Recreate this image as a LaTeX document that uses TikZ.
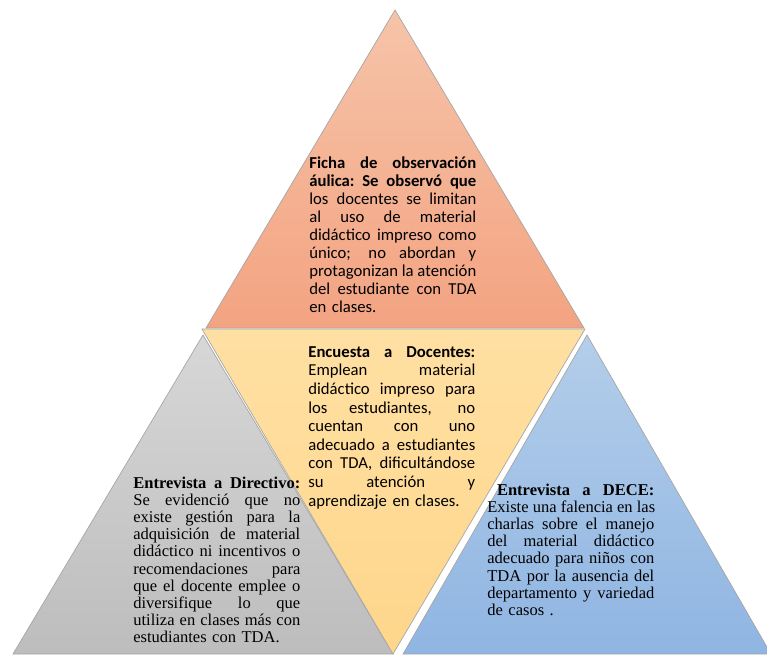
\documentclass[tikz,border=0pt]{standalone}
\usepackage{fontspec}
\setmainfont{Liberation Serif}
\newfontfamily\calibri{Carlito}
\usetikzlibrary{positioning}
\definecolor{fichaTop}{HTML}{F6C4A9}
\definecolor{fichaBot}{HTML}{F3A381}
\definecolor{encTop}{HTML}{FFE0A3}
\definecolor{encBot}{HTML}{FED68B}
\definecolor{dirTop}{HTML}{D7D7D7}
\definecolor{dirBot}{HTML}{BDBDBD}
\definecolor{deceTop}{HTML}{B4CEEA}
\definecolor{deceBot}{HTML}{8FB5E2}
\def\boxw{3.34cm}
% one justified line of a block
\newcommand{\jline}[1]{\makebox[\boxw][s]{\spaceskip=\fontdimen2\font plus 1fil\xspaceskip=\spaceskip #1}\par}

\begin{document}
\begin{tikzpicture}[x=0.02cm, y=-0.02cm]
    \tikzstyle{tri}=[draw=black!35, line width=0.4pt, line join=miter]
    \tikzstyle{sanstext}=[anchor=north west, inner sep=0pt, text width=\boxw, font=\calibri\fontsize{9.5pt}{10.3pt}\selectfont]
    \tikzstyle{seriftext}=[anchor=north west, inner sep=0pt, text width=\boxw, font=\fontsize{9.4pt}{9.7pt}\selectfont]

    \useasboundingbox (0,0) rectangle (767,654);
    \clip (0,0) rectangle (767,654);

    % corners
    \coordinate (F-top) at (395,10);
    \coordinate (F-left) at (206,328);
    \coordinate (F-right) at (584,328);
    \coordinate (D-top) at (203,335);
    \coordinate (D-left) at (13,654);
    \coordinate (D-right) at (393,654);
    \coordinate (C-top) at (587,335);
    \coordinate (C-left) at (403,654);
    \coordinate (C-right) at (771,654);
    \coordinate (E-left) at (202,329);
    \coordinate (E-right) at (585,329);
    \coordinate (E-bot) at (393,654);

    \draw[tri, top color=fichaTop, bottom color=fichaBot] (F-top) -- (F-right) -- (F-left) -- cycle;
    \draw[tri, top color=dirTop, bottom color=dirBot] (D-top) -- (D-right) -- (D-left) -- cycle;
    \draw[tri, top color=deceTop, bottom color=deceBot] (C-top) -- (C-right) -- (C-left) -- cycle;
    \draw[tri, top color=encTop, bottom color=encBot] (E-left) -- (E-right) -- (E-bot) -- cycle;

    \node[sanstext] (ficha) at (309,156) {%
        \jline{\textbf{Ficha de observación}}
        \jline{\textbf{áulica: Se observó que}}
        \jline{los docentes se limitan}
        \jline{al uso de material}
        \jline{didáctico impreso como}
        \jline{único; no abordan y}
        \jline{protagonizan la atención}
        \jline{del estudiante con TDA}
        en clases.};

    \node[sanstext, font=\calibri\fontsize{9.5pt}{10.6pt}\selectfont] (encuesta) at (308,346) {%
        \jline{\textbf{Encuesta a Docentes:}}
        \jline{Emplean material}
        \jline{didáctico impreso para}
        \jline{los estudiantes, no}
        \jline{cuentan con uno}
        \jline{adecuado a estudiantes}
        \jline{con TDA, dificultándose}
        \jline{su atención y}
        aprendizaje en clases.};

    \node[seriftext] (directivo) at (133,477) {%
        \jline{\textbf{Entrevista a Directivo:}}
        \jline{Se evidenció que no}
        \jline{existe gestión para la}
        \jline{adquisición de material}
        \jline{didáctico ni incentivos o}
        \jline{recomendaciones para}
        \jline{que el docente emplee o}
        \jline{diversifique lo que}
        \jline{utiliza en clases más con}
        estudiantes con TDA.};

    \node[seriftext] (dece) at (487,484) {%
        \jline{\hspace{5.5pt}\textbf{Entrevista a DECE:}}
        \jline{Existe una falencia en las}
        \jline{charlas sobre el manejo}
        \jline{del material didáctico}
        \jline{adecuado para niños con}
        \jline{TDA por la ausencia del}
        \jline{departamento y variedad}
        de casos .};
\end{tikzpicture}
\end{document}
